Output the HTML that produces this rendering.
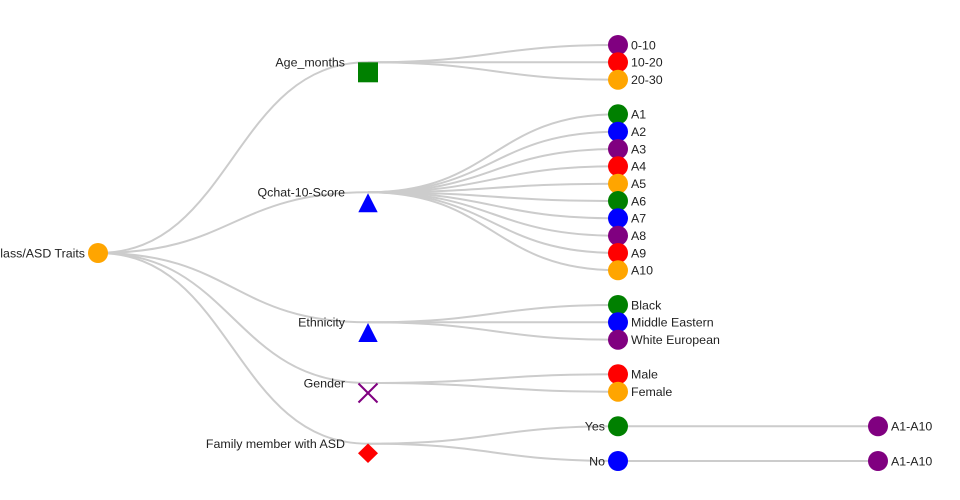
<!DOCTYPE html>
<html>
<head>
<meta charset="utf-8">
<style>
  html, body { margin: 0; padding: 0; background: #fff; }
  svg { display: block; }
  text { font-family: "Liberation Sans", "DejaVu Sans", sans-serif; font-size: 12.4px; fill: #222; }
  .link { fill: none; stroke: #cccccc; stroke-width: 2; }
</style>
</head>
<body>
<svg width="960" height="500" viewBox="0 0 960 500" xmlns="http://www.w3.org/2000/svg">
  <!-- links root -> level1 -->
  <path class="link" d="M98,253 C233,253 233,62.3 368,62.3"/>
  <path class="link" d="M98,253 C233,253 233,192.3 368,192.3"/>
  <path class="link" d="M98,253 C233,253 233,322.3 368,322.3"/>
  <path class="link" d="M98,253 C233,253 233,383 368,383"/>
  <path class="link" d="M98,253 C233,253 233,443.7 368,443.7"/>

  <!-- Age_months -> leaves -->
  <path class="link" d="M368,62.3 C493,62.3 493,45 618,45"/>
  <path class="link" d="M368,62.3 C493,62.3 493,62.3 618,62.3"/>
  <path class="link" d="M368,62.3 C493,62.3 493,79.7 618,79.7"/>

  <!-- Qchat -> A1..A10 -->
  <path class="link" d="M368,192.3 C493,192.3 493,114.3 618,114.3"/>
  <path class="link" d="M368,192.3 C493,192.3 493,131.7 618,131.7"/>
  <path class="link" d="M368,192.3 C493,192.3 493,149 618,149"/>
  <path class="link" d="M368,192.3 C493,192.3 493,166.3 618,166.3"/>
  <path class="link" d="M368,192.3 C493,192.3 493,183.7 618,183.7"/>
  <path class="link" d="M368,192.3 C493,192.3 493,201 618,201"/>
  <path class="link" d="M368,192.3 C493,192.3 493,218.3 618,218.3"/>
  <path class="link" d="M368,192.3 C493,192.3 493,235.7 618,235.7"/>
  <path class="link" d="M368,192.3 C493,192.3 493,253 618,253"/>
  <path class="link" d="M368,192.3 C493,192.3 493,270.3 618,270.3"/>

  <!-- Ethnicity -->
  <path class="link" d="M368,322.3 C493,322.3 493,305 618,305"/>
  <path class="link" d="M368,322.3 C493,322.3 493,322.3 618,322.3"/>
  <path class="link" d="M368,322.3 C493,322.3 493,339.7 618,339.7"/>

  <!-- Gender -->
  <path class="link" d="M368,383 C493,383 493,374.3 618,374.3"/>
  <path class="link" d="M368,383 C493,383 493,391.7 618,391.7"/>

  <!-- Family -->
  <path class="link" d="M368,443.7 C493,443.7 493,426.3 618,426.3"/>
  <path class="link" d="M368,443.7 C493,443.7 493,461 618,461"/>
  <path class="link" d="M618,426.3 L878,426.3"/>
  <path class="link" d="M618,461 L878,461"/>

  <!-- root -->
  <circle cx="98" cy="253" r="10" fill="#FFA500"/>
  <text x="85" y="257.4" text-anchor="end">Class/ASD Traits</text>

  <!-- level1 symbols -->
  <rect x="358" y="62.3" width="20" height="20" fill="#008000"/>
  <text x="345" y="66.7" text-anchor="end">Age_months</text>

  <polygon points="368,193.3 358.3,212.3 377.7,212.3" fill="#0000FF"/>
  <text x="345" y="196.7" text-anchor="end">Qchat-10-Score</text>

  <polygon points="368,323 358.3,342 377.7,342" fill="#0000FF"/>
  <text x="345" y="326.7" text-anchor="end">Ethnicity</text>

  <g stroke="#800080" stroke-width="2">
    <line x1="358.5" y1="383.5" x2="377.5" y2="402.5"/>
    <line x1="358.5" y1="402.5" x2="377.5" y2="383.5"/>
  </g>
  <text x="345" y="387.4" text-anchor="end">Gender</text>

  <polygon points="368,443.5 378,453.2 368,463 358,453.2" fill="#FF0000"/>
  <text x="345" y="448.1" text-anchor="end">Family member with ASD</text>

  <!-- leaves -->
  <circle cx="618" cy="45" r="10" fill="#800080"/>
  <circle cx="618" cy="62.3" r="10" fill="#FF0000"/>
  <circle cx="618" cy="79.7" r="10" fill="#FFA500"/>
  <text x="631" y="49.4">0-10</text>
  <text x="631" y="66.7">10-20</text>
  <text x="631" y="84.1">20-30</text>

  <circle cx="618" cy="114.3" r="10" fill="#008000"/>
  <circle cx="618" cy="131.7" r="10" fill="#0000FF"/>
  <circle cx="618" cy="149" r="10" fill="#800080"/>
  <circle cx="618" cy="166.3" r="10" fill="#FF0000"/>
  <circle cx="618" cy="183.7" r="10" fill="#FFA500"/>
  <circle cx="618" cy="201" r="10" fill="#008000"/>
  <circle cx="618" cy="218.3" r="10" fill="#0000FF"/>
  <circle cx="618" cy="235.7" r="10" fill="#800080"/>
  <circle cx="618" cy="253" r="10" fill="#FF0000"/>
  <circle cx="618" cy="270.3" r="10" fill="#FFA500"/>
  <text x="631" y="118.7">A1</text>
  <text x="631" y="136.1">A2</text>
  <text x="631" y="153.4">A3</text>
  <text x="631" y="170.7">A4</text>
  <text x="631" y="188.1">A5</text>
  <text x="631" y="205.4">A6</text>
  <text x="631" y="222.7">A7</text>
  <text x="631" y="240.1">A8</text>
  <text x="631" y="257.4">A9</text>
  <text x="631" y="274.7">A10</text>

  <circle cx="618" cy="305" r="10" fill="#008000"/>
  <circle cx="618" cy="322.3" r="10" fill="#0000FF"/>
  <circle cx="618" cy="339.7" r="10" fill="#800080"/>
  <text x="631" y="309.4">Black</text>
  <text x="631" y="326.7">Middle Eastern</text>
  <text x="631" y="344.1">White European</text>

  <circle cx="618" cy="374.3" r="10" fill="#FF0000"/>
  <circle cx="618" cy="391.7" r="10" fill="#FFA500"/>
  <text x="631" y="378.7">Male</text>
  <text x="631" y="396.1">Female</text>

  <circle cx="618" cy="426.3" r="10" fill="#008000"/>
  <circle cx="618" cy="461" r="10" fill="#0000FF"/>
  <text x="605" y="430.7" text-anchor="end">Yes</text>
  <text x="605" y="465.4" text-anchor="end">No</text>

  <circle cx="878" cy="426.3" r="10" fill="#800080"/>
  <circle cx="878" cy="461" r="10" fill="#800080"/>
  <text x="891" y="430.7">A1-A10</text>
  <text x="891" y="465.4">A1-A10</text>
</svg>
</body>
</html>
